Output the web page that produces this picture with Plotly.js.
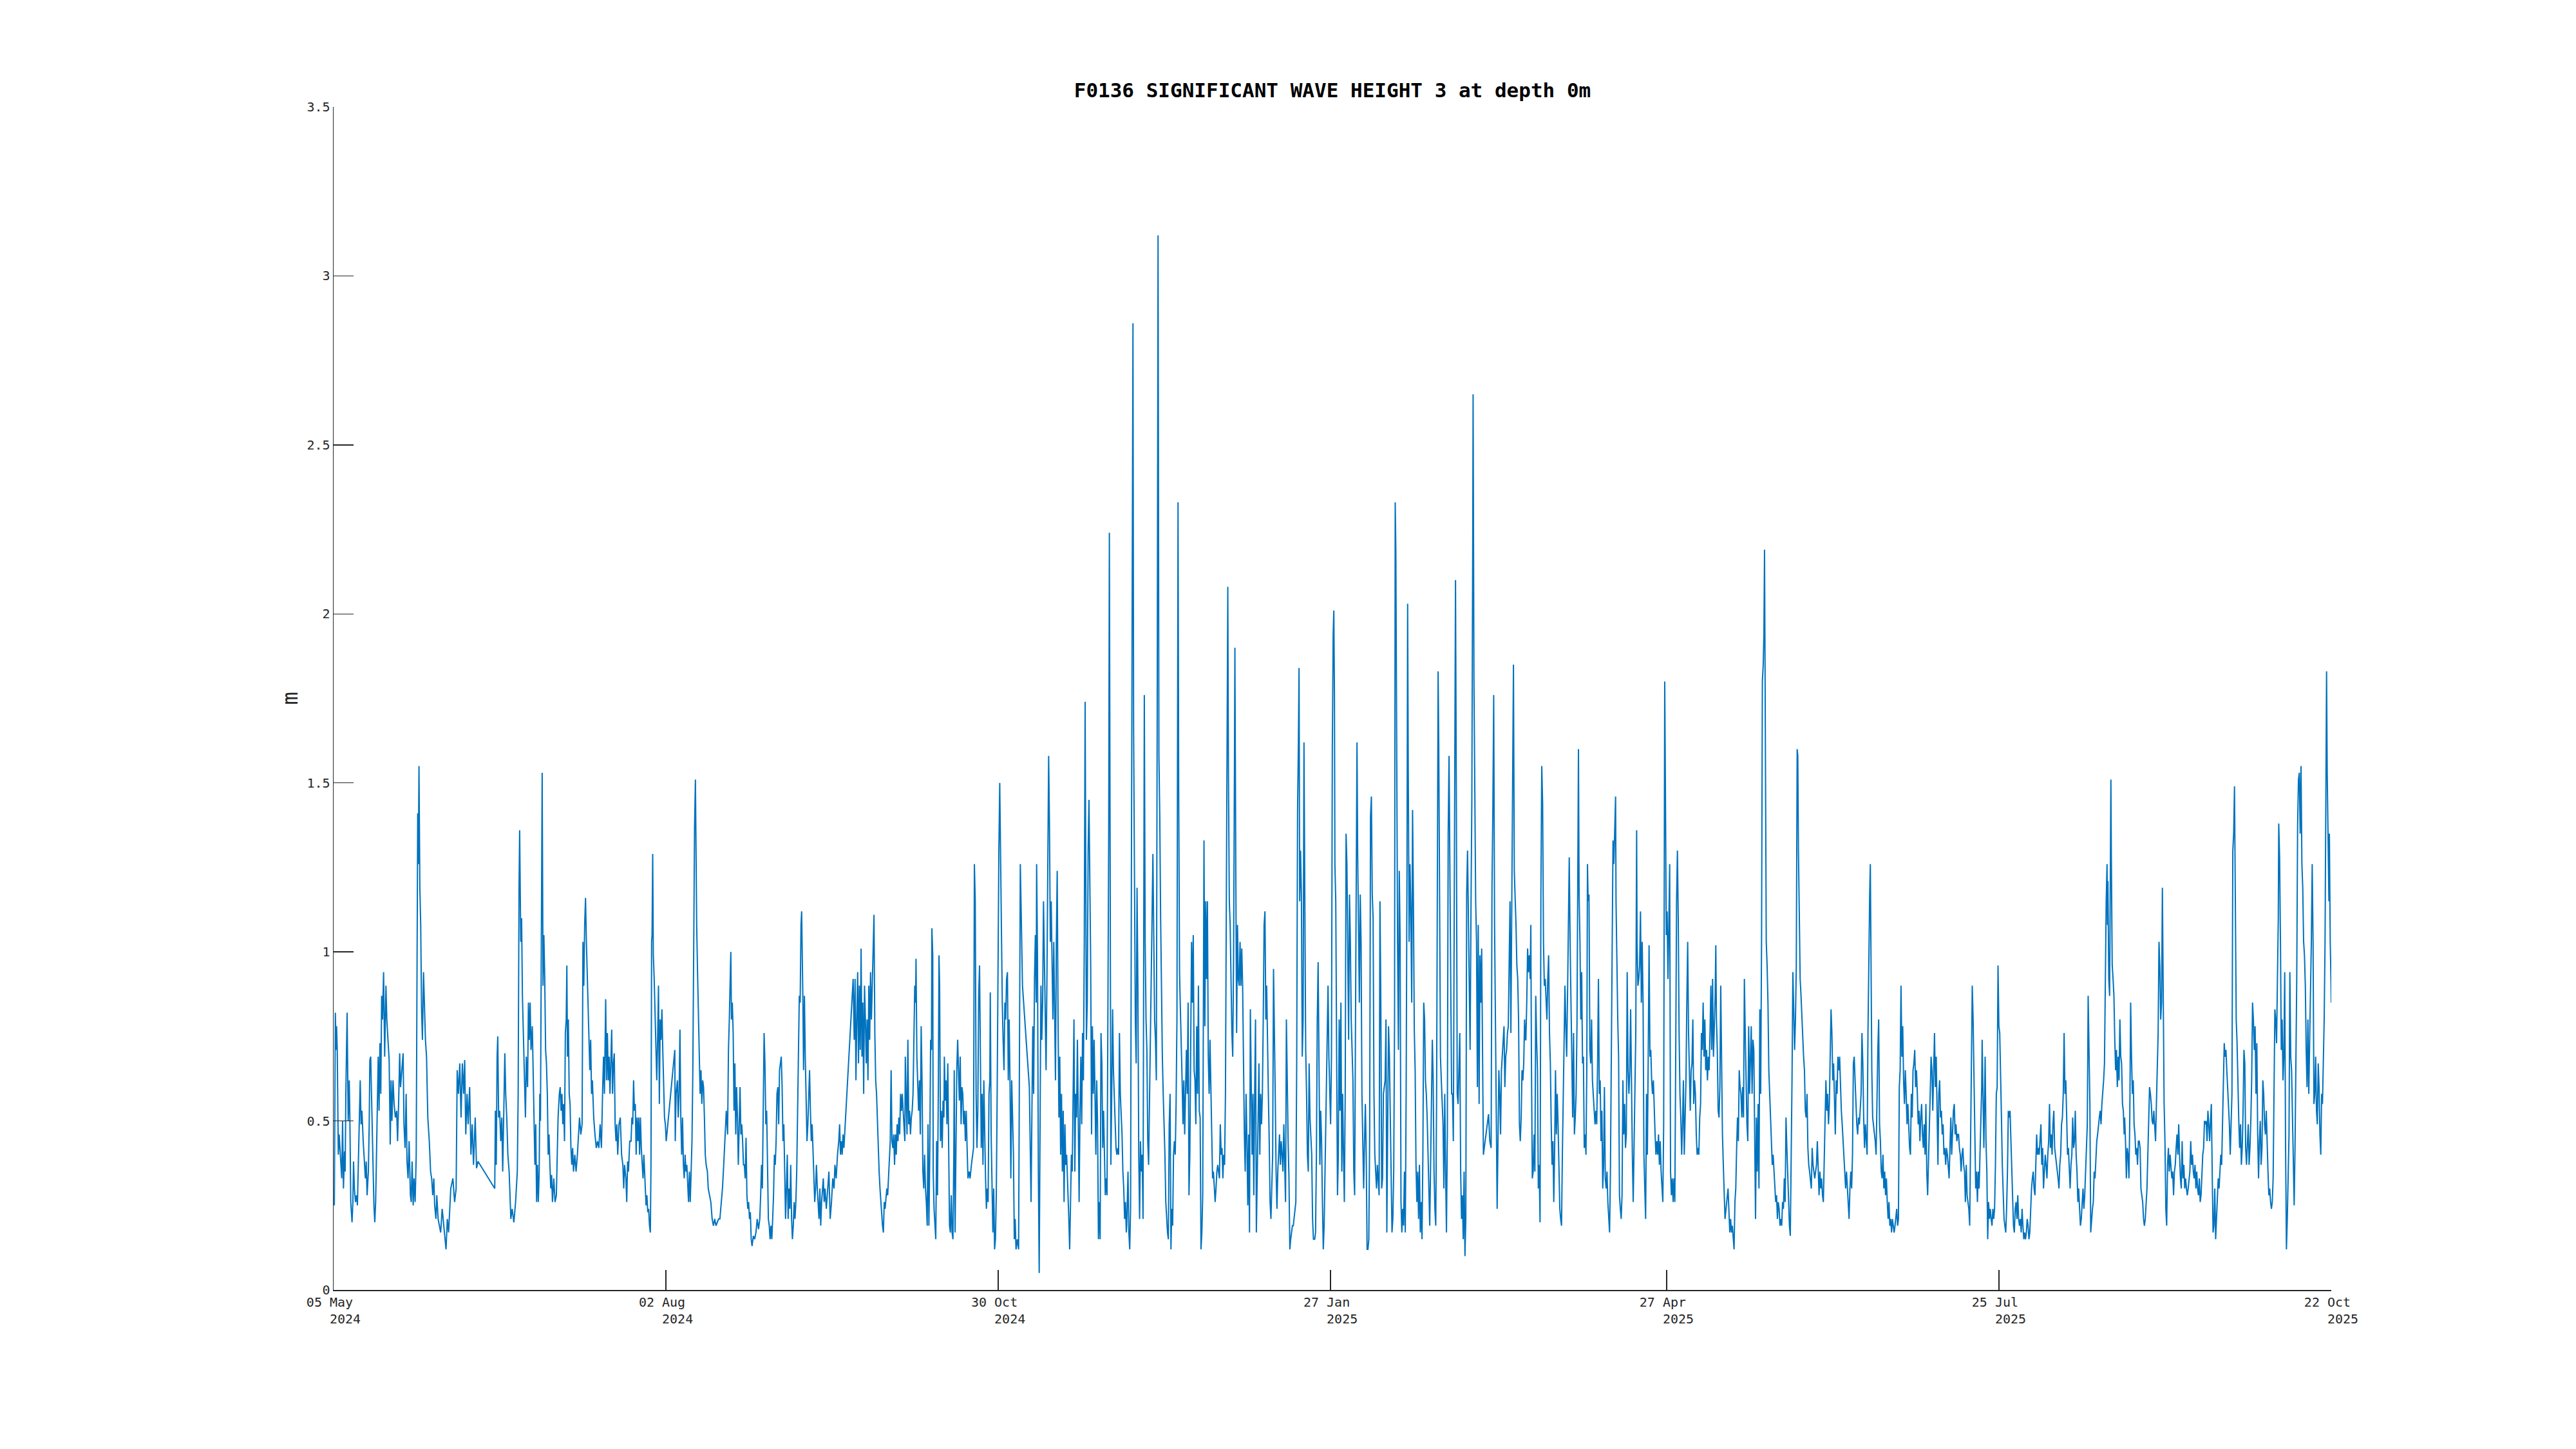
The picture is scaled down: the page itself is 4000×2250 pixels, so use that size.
<!DOCTYPE html>
<html>
<head>
<meta charset="utf-8">
<script src="https://cdn.plot.ly/plotly-3.0.1.min.js"></script>
<style>html,body{margin:0;padding:0;background:#fff;}#chart{width:4000px;height:2250px;}</style>
</head>
<body>
<div id="chart"></div>
<script>
// Time axis: days since 05 May 2024 00:00 UTC; values: significant wave height (m)
const startDate = '2024-05-05';
const endDate = '2025-10-22';

const part01Day = [
0.2,0.46,0.69,0.8,0.98,1.26,1.49,1.84,2.18,2.41,
2.64,2.93,3.1,3.28,3.45,3.62,3.91,4.19,4.37,4.6,
4.94,5.17,5.34,5.57,5.86,6.15,6.38,6.61,6.84,7.13,
7.36,7.59,7.93,8.28,8.51,8.74,8.97,9.31,9.54,9.71,
9.94,10.17,10.46,10.8,11.03,11.26,11.49,11.72,11.95,12.18,
12.41,12.64,12.87,13.1,13.39,13.68,14.02,14.25,14.54,14.88,
15.17,15.4,15.63,15.92,16.21,16.55,16.9,17.13,17.41,17.7,
17.93,18.28,18.62,18.85,19.14,19.43,19.66,19.94,20.23,20.57,
20.8,21.03,21.32,21.55,21.84,22.13,22.36,22.53,22.7,22.87,
23.1,23.33,23.56,23.79,24.08,24.31,24.6,24.89,25.23,25.63,
25.98,26.26,26.55,26.84,27.07,27.41,27.64,27.99,28.33,28.68,
29.08,29.48,30.11,30.46,30.8,31.38,31.95,32.41,32.82,33.1,
33.45,33.79,34.14,34.48,34.83,35.11,35.4,35.75,36.03,36.44,
36.78,37.13,37.47,37.93,38.28,38.68,43.16,43.33,43.56,43.79,
43.97,44.2,44.48,44.77,45.06,45.29,45.57,45.86,46.09,46.38,
46.67,47.01,47.47,47.82,48.28,48.74,49.2,49.43,49.66,49.83,
50.12,50.35,50.57,50.8,51.15,51.38,51.61,51.95];
const part01Hs = [
0.25,0.82,0.71,0.78,0.71,0.40,0.46,0.38,0.33,0.50,
0.30,0.41,0.35,0.58,0.67,0.82,0.50,0.62,0.50,0.26,
0.20,0.26,0.38,0.30,0.26,0.28,0.25,0.35,0.49,0.62,
0.49,0.53,0.44,0.37,0.33,0.38,0.28,0.35,0.49,0.68,
0.69,0.57,0.40,0.25,0.20,0.26,0.40,0.53,0.69,0.53,
0.73,0.58,0.87,0.80,0.94,0.69,0.90,0.80,0.75,0.68,
0.43,0.62,0.50,0.62,0.55,0.51,0.53,0.44,0.55,0.70,
0.60,0.65,0.70,0.49,0.42,0.58,0.38,0.33,0.44,0.28,
0.26,0.38,0.25,0.33,0.26,0.40,1.08,1.41,1.26,1.55,
1.19,1.08,0.83,0.74,0.94,0.85,0.74,0.69,0.51,0.44,
0.35,0.33,0.28,0.33,0.25,0.21,0.28,0.21,0.19,0.17,
0.24,0.19,0.12,0.21,0.17,0.30,0.33,0.26,0.30,0.65,
0.58,0.67,0.51,0.67,0.58,0.68,0.46,0.58,0.49,0.60,
0.40,0.49,0.37,0.51,0.36,0.38,0.30,0.53,0.37,0.69,
0.75,0.51,0.53,0.44,0.51,0.35,0.51,0.70,0.58,0.51,
0.40,0.35,0.21,0.24,0.20,0.26,0.35,0.58,1.19,1.36,
1.03,1.10,0.87,0.78,0.60,0.51,0.69,0.60];

const part02Day = [
52.18,52.41,52.64,52.87,53.22,53.45,53.68,53.91,54.14,54.37,
54.6,54.83,55.06,55.23,55.4,55.63,55.86,56.09,56.32,56.55,
56.78,57.01,57.24,57.47,57.7,57.93,58.16,58.39,58.62,58.97,
59.31,59.66,59.89,60.12,60.46,60.69,60.92,61.15,61.38,61.61,
61.84,62.07,62.3,62.47,62.64,62.87,63.1,63.33,63.56,63.79,
64.02,64.25,64.6,64.94,65.29,65.63,65.86,66.21,66.55,66.78,
67.01,67.24,67.47,67.7,67.93,68.16,68.39,68.62,68.85,69.08,
69.31,69.66,70.0,70.35,70.69,71.04,71.38,71.73,72.07,72.3,
72.53,72.87,73.1,73.33,73.56,73.79,74.02,74.25,74.48,74.71,
74.94,75.17,75.4,75.63,75.86,76.09,76.44,76.78,77.13,77.47,
77.7,77.93,78.28,78.51,78.74,78.97,79.31,79.66,79.89,80.12,
80.34,80.57,80.8,81.03,81.26,81.49,81.72,81.95,82.18,82.41,
82.64,82.87,83.1,83.45,83.68,83.91,84.14,84.37,84.6,84.83,
85.0,85.17,85.29,85.46,85.63,85.86,86.09,86.32,86.55,86.78,
87.01,87.24,87.47,87.7,87.93,88.16,88.39,88.62,88.85,89.08,
91.38,91.5,91.72,92.07,92.3,92.53,92.76,92.99,93.22,93.45,
93.68,93.91,94.14,94.37,94.6,94.83,95.06,95.29,95.52,95.75,
95.98,96.21,96.44,96.67,96.9,97.07,97.24,97.47,97.7,97.93,
98.16,98.39,98.62,98.85,99.08,99.31,99.54,99.77,100.11,100.34,
100.69,101.03,101.38,101.72,102.07,102.41,102.76,103.1,103.45,103.79,
104.14,104.48,104.83,105.17];
const part02Hs = [
0.85,0.74,0.85,0.71,0.78,0.65,0.53,0.37,0.49,0.26,
0.37,0.26,0.35,0.58,0.50,1.03,1.53,0.90,1.05,0.92,
0.71,0.67,0.58,0.40,0.46,0.37,0.30,0.34,0.26,0.33,
0.26,0.28,0.42,0.51,0.58,0.60,0.53,0.58,0.49,0.55,
0.44,0.76,0.80,0.96,0.69,0.80,0.58,0.55,0.42,0.37,
0.42,0.35,0.40,0.35,0.40,0.46,0.51,0.46,0.49,1.03,
0.90,1.08,1.16,1.03,0.92,0.85,0.71,0.65,0.74,0.58,
0.62,0.51,0.46,0.42,0.44,0.42,0.49,0.42,0.60,0.69,
0.58,0.86,0.62,0.76,0.62,0.69,0.58,0.71,0.77,0.58,
0.67,0.70,0.49,0.44,0.49,0.40,0.49,0.51,0.40,0.37,
0.30,0.37,0.33,0.26,0.38,0.35,0.44,0.44,0.51,0.49,
0.62,0.53,0.55,0.40,0.51,0.44,0.51,0.40,0.51,0.42,
0.37,0.33,0.40,0.30,0.25,0.28,0.23,0.24,0.19,0.17,
0.37,1.03,1.05,1.29,0.99,0.92,0.80,0.71,0.62,0.74,
0.90,0.55,0.80,0.74,0.83,0.71,0.62,0.51,0.49,0.44,
0.71,0.44,0.58,0.62,0.51,0.58,0.77,0.51,0.40,0.51,
0.37,0.33,0.40,0.35,0.37,0.30,0.26,0.35,0.26,0.35,
0.44,0.65,1.03,1.37,1.51,1.26,1.08,0.94,0.80,0.69,
0.58,0.65,0.55,0.62,0.60,0.51,0.40,0.37,0.35,0.30,
0.28,0.26,0.21,0.19,0.21,0.19,0.20,0.21,0.21,0.26,
0.30,0.37,0.44,0.53];

const part03Day = [
105.52,105.75,105.98,106.21,106.38,106.55,106.78,107.01,107.24,107.47,
107.7,107.93,108.16,108.39,108.62,108.85,109.08,109.31,109.54,109.77,
110.0,110.23,110.46,110.69,110.92,111.15,111.38,111.61,111.84,112.07,
112.42,112.76,113.11,113.45,113.8,114.14,114.37,114.6,114.83,115.06,
115.29,115.52,115.75,115.98,116.21,116.44,116.67,116.9,117.13,117.36,
117.59,117.82,118.05,118.28,118.51,118.74,118.97,119.2,119.43,119.66,
119.89,120.12,120.35,120.58,120.81,121.04,121.27,121.5,121.73,121.96,
122.19,122.42,122.65,122.88,123.11,123.34,123.57,123.8,124.03,124.26,
124.49,124.72,124.95,125.18,125.35,125.52,125.69,125.86,126.09,126.32,
126.55,126.78,127.01,127.24,127.47,127.7,127.93,128.16,128.39,128.62,
128.85,129.08,129.31,129.54,129.77,130.0,130.23,130.46,130.69,130.92,
131.15,131.38,131.61,131.96,132.3,132.65,132.99,133.34,133.68,134.03,
134.26,134.6,134.95,135.29,135.52,135.75,135.98,136.21,136.44,136.67,
139.14,139.43,139.66,139.89,140.12,140.35,140.58,140.81,141.04,141.27,
141.5,141.73,141.96,142.19,142.42,142.65,142.88,143.11,143.34,143.57,
143.8,144.03,144.26,144.49,144.72,144.95,145.18,145.41,145.64,145.87,
146.1,146.33,146.56,146.79,147.01,147.24,147.47,147.7,147.93,148.16,
148.39,148.62,148.85,149.08,149.31,149.54,149.77,150.0,150.23,150.46,
150.69,150.92,151.15,151.38,151.61,151.84,152.07,152.3,152.53,152.76,
152.99,153.11,153.34,153.57,153.8,154.03,154.26,154.49,154.72,154.95,
155.18,155.41,155.64,155.87,155.98,156.21,156.44,156.67,156.9,157.13,
157.36,157.59,157.82,158.05,158.28,158.51,158.74];
const part03Hs = [
0.46,0.71,0.80,0.90,1.00,0.80,0.85,0.76,0.53,0.67,
0.46,0.60,0.51,0.37,0.51,0.60,0.46,0.49,0.44,0.37,
0.37,0.33,0.45,0.28,0.24,0.26,0.21,0.23,0.15,0.13,
0.16,0.15,0.17,0.21,0.18,0.21,0.28,0.37,0.30,0.58,
0.76,0.67,0.49,0.53,0.35,0.21,0.19,0.15,0.19,0.15,
0.21,0.28,0.40,0.37,0.44,0.58,0.60,0.49,0.65,0.67,
0.69,0.60,0.44,0.49,0.35,0.21,0.30,0.40,0.21,0.30,
0.24,0.37,0.21,0.15,0.19,0.26,0.21,0.26,0.35,0.51,
0.65,0.87,0.85,1.08,1.12,1.01,0.85,0.65,0.87,0.69,
0.58,0.44,0.49,0.58,0.65,0.53,0.44,0.49,0.40,0.33,
0.26,0.30,0.37,0.30,0.26,0.21,0.30,0.19,0.26,0.30,
0.33,0.26,0.30,0.24,0.30,0.35,0.21,0.26,0.33,0.30,
0.37,0.33,0.40,0.44,0.49,0.40,0.44,0.40,0.46,0.42,
0.92,0.74,0.92,0.62,0.80,0.94,0.67,0.90,0.71,1.01,
0.69,0.85,0.58,0.90,0.80,0.67,0.80,0.62,0.90,0.74,
0.94,0.80,0.90,1.01,1.11,0.76,0.62,0.58,0.49,0.40,
0.35,0.30,0.26,0.21,0.19,0.17,0.26,0.24,0.28,0.30,
0.28,0.33,0.37,0.44,0.65,0.44,0.42,0.46,0.37,0.46,
0.40,0.49,0.44,0.51,0.46,0.58,0.53,0.58,0.53,0.49,
0.44,0.69,0.53,0.46,0.74,0.49,0.53,0.46,0.51,0.53,
0.58,0.78,0.90,0.85,0.98,0.69,0.58,0.53,0.62,0.46,
0.78,0.62,0.35,0.30,0.40,0.30,0.26];

const part04Day = [
158.97,159.2,159.43,159.66,159.89,160.12,160.23,160.46,160.58,160.81,
161.04,161.27,161.5,161.73,161.96,162.13,162.3,162.53,162.76,162.99,
163.22,163.45,163.57,163.8,164.03,164.26,164.49,164.72,164.95,165.18,
165.41,165.64,165.87,166.1,166.21,166.44,166.67,166.9,167.13,167.36,
167.59,167.82,168.05,168.28,168.51,168.74,168.97,169.2,169.43,169.66,
169.89,170.23,170.46,170.81,171.15,171.38,171.61,171.84,172.07,172.3,
172.53,172.76,172.99,173.22,173.45,173.68,173.91,174.14,174.37,174.6,
174.83,175.06,175.29,175.52,175.75,175.87,176.1,176.33,176.56,176.79,
177.02,177.25,177.48,177.71,177.94,178.17,178.4,178.62,178.85,179.08,
179.31,179.54,179.77,180.0,180.23,180.46,180.69,180.92,181.15,181.38,
181.61,181.84,182.07,182.3,182.53,182.76,183.1,183.45,183.68,183.91,
184.14,184.49,186.33,186.56,186.79,187.02,187.25,187.48,187.71,187.94,
188.17,188.28,188.51,188.74,188.97,189.2,189.43,189.66,189.89,190.12,
190.35,190.58,190.81,191.04,191.27,191.5,191.72,191.95,192.18,192.41,
192.64,192.87,193.1,193.33,193.56,193.79,194.02,194.25,194.48,194.71,
194.94,195.17,195.4,195.63,195.86,196.09,196.32,196.67,196.9,197.13,
197.36,197.59,197.82,198.05,198.28,198.51,198.74,198.97,199.2,199.43,
199.66,199.89,200.12,200.35,200.58,200.81,201.04,201.27,201.38,201.61,
201.84,202.07,202.3,202.53,202.76,202.99,203.22,203.45,203.68,203.91,
204.14,204.37,204.6,204.83,205.06,205.29,205.52,205.75,205.98,206.21,
206.44,206.67,206.9,207.13,207.36,207.59,207.76,207.93,208.16,208.39,
208.62,208.85,209.08,209.31,209.54,209.77,210.0,210.23,210.46,210.69,
210.92,211.15,211.38,211.61,211.84,212.07,212.3];
const part04Hs = [
0.19,0.49,0.19,0.40,0.74,0.71,1.07,0.99,0.35,0.24,
0.19,0.15,0.44,0.28,0.60,0.99,0.90,0.44,0.53,0.42,
0.56,0.51,0.69,0.56,0.62,0.49,0.67,0.40,0.19,0.17,
0.28,0.17,0.15,0.40,0.65,0.17,0.49,0.65,0.74,0.62,
0.56,0.69,0.49,0.60,0.58,0.49,0.53,0.44,0.53,0.42,
0.33,0.35,0.33,0.37,0.40,0.42,1.26,1.15,0.58,0.42,
0.53,0.87,0.96,0.67,0.42,0.58,0.37,0.62,0.44,0.33,
0.24,0.30,0.26,0.58,0.62,0.88,0.46,0.30,0.17,0.30,
0.12,0.15,0.28,0.58,1.03,1.30,1.50,1.26,0.99,0.85,
0.74,0.65,0.85,0.80,0.92,0.94,0.62,0.80,0.62,0.33,
0.62,0.51,0.40,0.15,0.21,0.12,0.15,0.12,0.80,1.26,
1.12,0.90,0.60,0.40,0.26,0.53,0.78,0.58,0.92,1.05,
0.85,1.26,0.99,0.35,0.05,0.49,0.90,0.74,0.85,1.15,
0.99,0.78,0.65,0.92,1.26,1.58,1.37,1.03,1.15,0.94,
0.80,1.03,0.80,0.62,1.03,1.24,0.80,0.51,0.69,0.40,
0.58,0.35,0.53,0.26,0.49,0.37,0.40,0.30,0.21,0.12,
0.26,0.40,0.35,0.55,0.80,0.35,0.58,0.51,0.74,0.51,
0.26,0.53,0.69,0.49,0.76,0.62,1.03,1.74,1.26,0.74,
0.85,1.30,1.45,1.17,0.96,0.46,0.78,0.58,0.74,0.58,
0.40,0.62,0.49,0.15,0.26,0.15,0.76,0.67,0.42,0.53,
0.40,0.28,0.33,0.28,0.80,1.37,2.24,1.35,0.37,0.58,
0.83,0.65,0.58,0.49,0.42,0.40,0.42,0.40,0.76,0.58,
0.51,0.46,0.35,0.30,0.21,0.26,0.17];

const part05Day = [
212.41,212.75,212.98,213.21,213.44,213.67,213.9,214.08,214.25,214.48,
214.71,214.94,215.17,215.4,215.63,215.86,216.09,216.32,216.55,216.78,
217.01,217.12,217.35,217.58,217.81,218.04,218.27,218.5,218.73,218.96,
219.19,219.42,219.65,219.88,220.11,220.34,220.57,220.8,221.03,221.26,
221.49,221.72,221.95,222.18,222.41,222.64,222.87,223.1,223.33,223.56,
223.79,224.02,224.25,224.48,224.71,224.94,225.17,225.4,225.63,225.86,
226.03,226.15,226.32,226.55,226.78,227.01,227.24,227.47,227.7,227.93,
228.16,228.39,228.62,228.85,229.08,229.31,229.54,229.77,230.0,230.23,
230.46,230.69,230.92,231.15,231.38,231.61,231.84,232.07,232.3,232.53,
232.76,232.99,233.1,233.33,233.56,233.79,234.02,234.25,234.48,234.71,
234.94,235.17,235.4,235.63,235.86,236.09,236.32,236.55,236.78,237.01,
237.24,237.47,237.7,237.93,238.16,238.39,238.62,238.85,239.08,239.31,
239.48,239.65,239.88,240.11,240.34,240.57,240.8,241.03,241.26,241.38,
241.61,241.84,242.07,242.3,242.53,242.76,242.99,243.22,243.45,243.68,
243.91,244.14,244.37,244.6,244.83,245.06,245.29,245.52,245.75,245.98,
246.21,246.44,246.67,246.9,247.13,247.36,247.59,247.82,248.05,248.28,
248.51,248.74,248.97,249.2,249.43,249.66,249.89,250.11,250.34,250.57,
250.8,251.03,251.26,251.49,251.72,251.95,252.18,252.41,252.64,252.87,
253.1,253.33,253.56,253.79,254.02,254.25,254.48,254.71,254.94,255.17,
255.4,255.63,255.86,256.09,256.32,256.55,256.78,257.01,257.24,257.47,
257.7,257.93,258.16,258.39,258.56,258.73,258.96,259.19,259.42,259.65,
259.88,260.11,260.34,260.57,260.8,261.03,261.26,261.49,261.72,261.95,
262.18,262.41,262.75,262.98,263.21,263.44,263.67,263.9,264.13,264.36,
264.59,264.82,265.05,265.28,265.51,265.74];
const part05Hs = [
0.19,0.35,0.17,0.12,0.24,1.26,2.17,2.86,1.67,1.26,
0.80,0.67,1.19,0.90,0.40,0.21,0.44,0.35,0.40,0.21,
1.26,1.76,1.03,0.80,0.71,0.44,0.37,0.58,0.71,0.90,
1.10,1.29,1.08,0.80,0.74,0.62,1.71,3.12,1.58,1.40,
1.10,0.85,0.69,0.58,0.51,0.40,0.26,0.21,0.17,0.15,
0.49,0.58,0.12,0.24,0.19,0.40,0.44,0.40,0.55,0.80,
1.49,2.33,1.49,0.94,0.83,0.69,0.62,0.49,0.62,0.46,
0.58,0.71,0.58,0.85,0.28,0.40,0.71,1.03,0.85,1.05,
0.65,0.62,0.49,0.78,0.58,0.90,0.53,0.51,0.12,0.17,
0.28,1.03,1.33,0.78,1.15,0.92,1.15,0.69,0.58,0.74,
0.60,0.51,0.33,0.35,0.30,0.26,0.30,0.35,0.37,0.35,
0.33,0.49,0.40,0.42,0.33,0.40,0.37,0.58,1.26,1.71,
2.08,1.53,1.15,1.08,0.92,0.76,0.69,0.99,1.55,1.90,
1.26,0.76,1.08,0.92,0.90,1.03,0.90,1.01,0.90,0.67,
0.46,0.35,0.58,0.44,0.25,0.46,0.17,0.83,0.58,0.40,
0.58,0.28,0.58,0.80,0.17,0.35,0.58,0.67,0.40,0.58,
0.49,0.58,0.80,1.08,1.12,0.80,0.90,0.71,0.58,0.44,
0.26,0.21,0.30,0.40,0.95,0.80,0.58,0.35,0.24,0.35,
0.40,0.46,0.37,0.44,0.40,0.35,0.49,0.40,0.26,0.80,
0.58,0.44,0.33,0.12,0.15,0.17,0.19,0.19,0.21,0.24,
0.26,0.67,1.42,1.62,1.84,1.15,1.30,1.17,0.69,0.80,
1.62,1.15,0.71,0.58,0.40,0.35,0.67,0.51,0.44,0.40,
0.21,0.15,0.15,0.17,0.40,0.80,0.97,0.58,0.37,0.53,
0.44,0.26,0.12,0.19,0.35,0.58];

const part06Day = [
265.86,266.09,266.32,266.55,266.78,267.01,267.24,267.47,267.7,267.87,
268.04,268.16,268.39,268.62,268.85,269.08,269.31,269.54,269.77,270.0,
270.23,270.46,270.69,270.92,271.15,271.38,271.61,271.84,272.07,272.3,
272.53,272.76,272.99,273.22,273.45,273.68,273.91,274.08,274.25,274.48,
274.71,274.94,275.17,275.4,275.63,275.86,276.09,276.32,276.55,276.78,
277.01,277.24,277.47,277.7,277.93,278.16,278.39,278.62,278.85,279.08,
279.31,279.54,279.77,280.0,280.23,280.46,280.69,280.92,281.15,281.38,
281.61,281.84,282.07,282.3,282.53,282.76,282.99,283.22,283.45,283.68,
283.91,284.14,284.31,284.48,284.71,284.94,285.17,285.4,285.63,285.86,
286.09,286.32,286.55,286.78,287.01,287.24,287.47,287.64,287.81,288.04,
288.27,288.5,288.73,288.96,289.19,289.42,289.65,289.88,290.11,290.34,
290.57,290.8,291.03,291.26,291.49,291.72,291.95,292.18,292.41,292.64,
292.87,293.1,293.33,293.56,293.79,294.02,294.25,294.48,294.71,294.94,
295.17,295.4,295.63,295.8,295.97,296.2,296.43,296.66,296.89,297.12,
297.35,297.58,297.81,298.04,298.27,298.5,298.73,298.96,299.19,299.42,
299.65,299.88,300.11,300.28,300.46,300.69,300.92,301.15,301.38,301.61,
301.84,302.07,302.3,302.53,302.76,302.99,303.22,303.45,303.68,303.91,
304.14,304.37,304.6,304.83,305.06,305.17,305.4,305.63,305.86,306.09,
306.32,306.55,306.78,307.01,307.24,307.47,307.7,307.93,309.31,309.65,
310.0,310.23,310.46,310.69,310.92,311.15,311.38,311.61,311.84,312.07,
312.3,312.53,312.76,312.99,313.22,313.45,313.68,313.91,314.14,314.37,
314.6,314.83,315.06,315.29,315.52,315.75,315.98,316.2,316.43,316.66,
316.89,317.12,317.35,317.58,317.81,318.04,318.27,318.5,318.73,318.96,
319.19];
const part06Hs = [
0.60,0.80,0.90,0.69,0.58,0.49,0.69,1.60,1.94,2.01,
1.76,1.26,1.15,0.80,0.28,0.40,0.80,0.53,0.85,0.35,
0.58,0.40,0.26,0.58,1.35,1.26,0.92,0.74,1.17,1.03,
0.80,0.71,0.62,0.35,0.28,0.80,1.26,1.62,1.30,1.12,
0.85,1.17,1.03,0.58,0.40,0.30,0.44,0.55,0.40,0.12,
0.12,0.15,0.46,1.40,1.46,1.17,1.10,0.58,0.40,0.35,
0.30,0.37,0.33,0.28,1.15,0.85,0.30,0.33,0.58,0.60,
0.62,0.80,0.17,0.49,0.78,0.69,0.51,0.40,0.17,0.21,
0.35,0.80,2.33,2.19,1.49,1.03,0.71,1.24,1.03,0.26,
0.17,0.24,0.19,0.35,0.17,0.58,1.26,2.03,1.53,1.03,
1.26,1.12,0.85,1.42,1.15,0.77,0.65,0.37,0.26,0.35,
0.21,0.37,0.17,0.26,0.15,0.40,0.85,0.80,0.62,0.58,
0.51,0.40,0.26,0.19,0.37,0.58,0.74,0.62,0.35,0.24,
0.19,0.58,1.26,1.83,1.62,1.03,0.69,0.62,0.55,0.49,
0.30,0.58,0.35,0.17,0.46,1.35,1.58,1.17,0.90,0.58,
0.58,0.44,1.26,1.49,2.10,1.44,0.58,0.55,0.67,0.76,
0.35,0.21,0.28,0.15,0.35,0.10,0.21,1.17,1.30,1.12,
0.99,0.71,1.12,1.44,2.17,2.65,1.80,1.42,1.15,1.03,
0.60,1.08,0.55,0.99,0.85,1.01,0.71,0.40,0.52,0.44,
0.42,1.19,1.42,1.76,1.08,0.80,0.51,0.24,0.44,0.65,
0.58,0.46,0.65,0.69,0.74,0.78,0.60,0.69,0.71,0.76,
0.78,0.94,1.15,0.76,1.10,1.35,1.85,1.24,1.17,1.08,
0.96,0.92,0.80,0.49,0.44,0.51,0.65,0.62,0.67,0.80,
0.74];

const part07Day = [
319.31,319.54,319.77,320.0,320.23,320.46,320.63,320.8,321.03,321.26,
321.49,321.72,321.95,322.18,322.41,322.64,322.87,323.1,323.33,323.56,
323.79,324.02,324.25,324.48,324.71,324.94,325.17,325.4,325.63,325.86,
326.09,326.32,326.55,326.78,327.01,327.24,327.47,327.7,327.93,328.16,
328.39,328.62,328.85,329.08,329.31,329.54,329.77,330.0,330.23,330.46,
330.69,330.92,331.15,331.38,331.61,331.84,332.07,332.3,332.53,332.76,
332.99,333.22,333.39,333.56,333.79,334.02,334.25,334.48,334.71,334.94,
335.17,335.4,335.63,335.8,335.98,336.21,336.44,336.67,336.9,337.13,
337.36,337.59,337.82,338.05,338.28,338.51,338.74,338.97,339.2,339.43,
339.66,339.89,340.12,340.34,340.57,340.8,341.03,341.26,341.49,341.72,
341.95,342.18,342.41,342.64,342.87,343.1,343.33,343.45,343.68,343.91,
344.14,344.37,344.6,344.83,345.06,345.29,345.52,345.75,345.98,346.21,
346.44,346.67,346.9,347.13,347.36,347.59,347.82,348.05,348.28,348.51,
348.74,348.97,349.08,349.31,349.54,349.77,350.0,350.23,350.46,350.69,
350.92,351.15,351.38,351.61,351.84,352.07,352.3,352.53,352.76,352.99,
353.22,353.45,353.68,353.91,354.14,354.37,354.6,354.83,355.06,355.29,
355.52,355.75,355.98,356.21,356.38,356.49,356.67,356.9,357.13,357.36,
357.59,357.82,358.05,358.28,358.51,358.74,358.97,359.2,359.43,359.66,
359.89,360.11,360.34,360.57,360.8,361.03,361.26,361.49,361.72,361.95,
362.18,362.41,362.64,362.87,363.1,363.33,363.56,363.79,364.02,364.25,
364.48,364.71,364.94,365.17,365.4,365.63,365.86,366.09,366.32,366.55,
366.78,367.01,367.24,367.47,367.7,367.93,368.16,368.39,368.62,368.85,
369.08,369.31,369.54,369.77,370.0,370.17,370.34,370.57,370.8,371.03,
371.26,371.49,371.72,371.95,372.18,372.41,372.64];
const part07Hs = [
0.74,0.85,1.01,0.94,0.99,0.92,1.08,0.67,0.33,0.35,
0.46,0.35,0.87,0.74,0.65,0.30,0.37,0.20,1.17,1.55,
1.44,1.03,0.90,0.92,0.85,0.80,0.92,0.99,0.76,0.67,
0.49,0.37,0.44,0.26,0.42,0.65,0.46,0.58,0.49,0.37,
0.24,0.21,0.19,0.40,0.58,0.69,0.90,0.78,0.69,0.87,
1.03,1.28,1.03,0.85,0.65,0.51,0.76,0.46,0.51,0.58,
0.78,1.21,1.60,1.17,1.03,0.80,0.94,0.67,0.69,0.42,
0.46,0.40,0.67,1.26,1.15,1.17,0.71,0.67,0.80,0.62,
0.58,0.53,0.49,0.53,0.49,0.67,0.92,0.58,0.62,0.44,
0.53,0.30,0.37,0.60,0.33,0.30,0.35,0.26,0.21,0.17,
0.35,0.71,0.94,1.33,1.26,1.37,1.46,1.15,0.92,0.80,
0.69,0.28,0.24,0.21,0.28,0.62,0.46,0.55,0.42,0.46,
0.94,0.65,0.58,0.65,0.83,0.58,0.40,0.26,0.44,0.55,
0.76,1.36,1.03,0.90,0.92,0.96,1.12,0.85,1.03,0.85,
0.40,0.30,0.21,0.58,0.40,0.69,1.02,0.69,0.71,0.62,
0.58,0.62,0.51,0.46,0.40,0.44,0.40,0.46,0.37,0.44,
0.35,0.30,0.26,0.49,1.35,1.80,1.49,1.05,1.12,0.92,
1.08,1.26,0.35,0.28,0.33,0.26,0.33,0.26,0.69,1.15,
1.30,1.10,0.76,0.58,0.51,0.40,0.49,0.62,0.40,0.53,
0.62,0.85,1.03,0.76,0.65,0.53,0.65,0.67,0.80,0.55,
0.62,0.58,0.46,0.40,0.42,0.40,0.51,0.55,0.76,0.71,
0.85,0.69,0.80,0.65,0.71,0.62,0.69,0.65,0.76,0.90,
0.71,0.92,0.69,0.76,0.87,1.02,0.80,0.71,0.53,0.51,
0.60,0.90,0.67,0.46,0.37,0.26,0.21];

const part08Day = [
373.45,373.68,373.91,374.14,374.37,374.6,374.83,375.06,375.29,375.52,
375.75,375.98,376.21,376.44,376.67,376.9,377.13,377.36,377.59,377.82,
378.05,378.28,378.51,378.74,378.97,379.2,379.43,379.66,379.89,380.12,
380.35,380.58,380.81,381.04,381.27,381.5,381.73,381.96,382.19,382.42,
382.64,382.87,383.05,383.22,383.45,383.68,383.91,384.14,384.37,384.6,
384.83,385.06,385.29,385.52,385.75,385.98,386.21,386.44,386.67,386.9,
387.13,387.36,387.59,387.82,388.05,388.28,388.51,388.74,388.97,389.2,
389.43,389.66,389.89,390.12,390.35,390.58,390.81,391.04,391.27,391.5,
391.73,391.96,392.13,392.3,392.53,392.76,392.99,393.22,393.45,393.68,
393.91,394.14,394.37,394.6,394.83,395.06,395.29,395.52,395.75,395.98,
396.21,396.44,396.67,396.9,397.13,397.36,397.59,397.82,398.05,398.28,
398.51,398.74,398.97,399.2,399.43,399.66,399.89,400.12,400.35,400.58,
400.8,401.03,401.26,401.49,401.72,401.95,402.18,402.41,402.64,402.87,
403.1,403.33,403.56,403.79,404.02,404.25,404.48,404.71,404.94,405.17,
405.4,405.63,405.86,406.09,406.32,406.55,406.78,407.01,407.24,407.47,
407.7,407.93,408.16,408.39,408.62,408.85,409.08,409.31,409.54,409.77,
410.0,410.23,410.46,410.69,410.92,411.15,411.38,411.55,411.72,411.95,
412.18,412.41,412.64,412.87,413.1,413.33,413.56,413.79,414.02,414.25,
414.48,414.71,414.94,415.17,415.4,415.63,415.86,416.09,416.32,416.55,
416.78,417.01,417.24,417.47,417.7,417.93,418.16,418.39,418.62,418.85,
419.08,419.31,419.54,419.77,420.0,420.23,420.46,420.69,420.92,421.15,
421.38,421.61,421.84,422.07,422.3,422.53,422.76,422.99,423.22,423.45,
423.68,423.91,424.14,424.37,424.6,424.83,425.06,425.29,425.52,425.75,
425.98,426.21];
const part08Hs = [
0.30,0.21,0.17,0.21,0.17,0.19,0.15,0.12,0.26,0.30,
0.42,0.51,0.44,0.65,0.60,0.58,0.51,0.60,0.51,0.92,
0.76,0.58,0.49,0.44,0.78,0.58,0.69,0.78,0.58,0.74,
0.71,0.40,0.21,0.51,0.35,0.55,0.30,0.83,0.58,1.03,
1.80,1.85,1.94,2.19,1.49,1.03,0.96,0.85,0.65,0.58,
0.49,0.44,0.37,0.40,0.35,0.30,0.26,0.28,0.21,0.26,
0.24,0.19,0.21,0.19,0.26,0.24,0.33,0.26,0.51,0.42,
0.35,0.28,0.19,0.16,0.35,0.62,0.94,0.85,0.71,0.80,
0.96,1.60,1.58,1.30,1.15,0.92,0.87,0.80,0.76,0.69,
0.65,0.53,0.51,0.58,0.42,0.37,0.35,0.33,0.30,0.42,
0.37,0.35,0.33,0.35,0.37,0.44,0.33,0.28,0.35,0.30,
0.33,0.28,0.26,0.40,0.50,0.62,0.53,0.58,0.49,0.55,
0.69,0.83,0.76,0.62,0.67,0.58,0.46,0.62,0.58,0.69,
0.65,0.69,0.60,0.53,0.49,0.44,0.40,0.35,0.30,0.35,
0.30,0.26,0.21,0.30,0.35,0.30,0.40,0.67,0.69,0.62,
0.53,0.49,0.46,0.51,0.49,0.53,0.58,0.76,0.67,0.51,
0.42,0.49,0.44,0.40,0.76,1.03,1.17,1.26,0.96,0.65,
0.51,0.49,0.46,0.44,0.40,0.60,0.71,0.80,0.49,0.44,
0.35,0.33,0.40,0.30,0.35,0.28,0.33,0.26,0.21,0.26,
0.19,0.21,0.17,0.21,0.19,0.17,0.19,0.21,0.24,0.19,
0.21,0.60,0.65,0.90,0.69,0.78,0.62,0.55,0.65,0.58,
0.49,0.55,0.46,0.42,0.40,0.58,0.51,0.65,0.67,0.71,
0.60,0.65,0.58,0.49,0.53,0.44,0.51,0.55,0.46,0.42,
0.49,0.40];

const part09Day = [
426.44,426.67,426.9,427.13,427.36,427.59,427.82,428.05,428.28,428.51,
428.74,428.97,429.2,429.43,429.66,429.89,430.12,430.35,430.58,430.81,
431.04,431.27,431.5,431.73,431.96,432.19,432.42,432.65,432.88,433.11,
433.34,433.57,433.8,434.03,434.26,434.49,434.72,434.95,435.18,435.41,
435.64,435.87,436.1,436.33,436.55,436.78,437.01,437.24,437.47,437.7,
437.93,438.16,438.39,438.62,438.85,439.08,439.31,439.54,439.77,440.0,
440.23,440.46,440.69,440.92,441.15,441.38,441.5,441.73,441.96,442.19,
442.3,442.53,442.76,442.99,443.22,443.45,443.68,443.91,444.14,444.37,
444.6,444.83,445.06,445.29,445.52,445.75,445.98,446.21,446.44,446.67,
446.9,447.13,447.36,447.59,447.82,448.05,448.28,448.51,448.74,448.97,
449.2,449.43,449.66,449.89,450.12,450.35,450.58,450.81,451.04,451.27,
451.5,451.73,451.96,452.19,452.42,452.65,452.88,453.11,453.34,453.57,
453.8,454.03,454.26,454.49,454.72,454.95,455.18,455.41,455.64,455.87,
456.1,456.33,456.55,456.78,457.01,457.24,457.47,457.7,457.93,458.16,
458.39,458.62,458.85,459.08,459.31,459.54,459.77,460.0,460.23,460.46,
460.69,460.92,461.15,461.38,461.61,461.84,462.07,462.3,462.53,462.76,
462.99,463.22,463.45,463.68,463.91,464.14,464.37,464.6,464.83,465.06,
465.29,465.52,465.75,465.98,466.21,466.44,466.67,466.9,467.13,467.36,
467.59,467.82,468.05,468.28,468.51,468.74,468.97,469.2,469.43,469.66,
469.89,470.12,470.35,470.58,470.81,471.04,471.27,471.5,471.73,471.96,
472.19,472.42,472.65,472.88,473.11,473.34,473.57,473.8,474.03,474.26,
474.49,474.72,474.95,475.06,475.18,475.41,475.64,475.87,475.98,476.1,
476.33,476.56,476.79,477.02,477.24,477.47,477.7,477.93,478.16,478.39,
478.62,478.85,479.08,479.31,479.54];
const part09Hs = [
0.55,0.35,0.28,0.40,0.51,0.58,0.69,0.65,0.53,0.65,
0.76,0.60,0.69,0.53,0.37,0.58,0.62,0.51,0.53,0.46,
0.49,0.40,0.42,0.37,0.42,0.40,0.37,0.33,0.42,0.51,
0.40,0.46,0.53,0.55,0.46,0.49,0.44,0.46,0.46,0.42,
0.40,0.35,0.40,0.42,0.37,0.35,0.26,0.37,0.28,0.26,
0.24,0.19,0.40,0.60,0.90,0.80,0.60,0.42,0.30,0.35,
0.26,0.35,0.30,0.40,0.53,0.60,0.74,0.53,0.42,0.60,
0.69,0.44,0.35,0.15,0.26,0.21,0.24,0.21,0.19,0.24,
0.21,0.24,0.37,0.58,0.60,0.96,0.78,0.76,0.65,0.51,
0.37,0.30,0.21,0.19,0.17,0.24,0.35,0.53,0.51,0.53,
0.44,0.35,0.26,0.19,0.17,0.24,0.26,0.21,0.28,0.21,
0.19,0.21,0.17,0.24,0.19,0.15,0.17,0.15,0.17,0.21,
0.19,0.15,0.17,0.26,0.30,0.33,0.35,0.30,0.28,0.37,
0.46,0.40,0.42,0.40,0.46,0.49,0.37,0.42,0.30,0.35,
0.40,0.37,0.33,0.40,0.44,0.55,0.42,0.46,0.40,0.49,
0.53,0.42,0.40,0.37,0.35,0.33,0.30,0.37,0.40,0.49,
0.51,0.58,0.76,0.58,0.62,0.51,0.40,0.42,0.35,0.30,
0.37,0.40,0.51,0.42,0.44,0.53,0.40,0.35,0.26,0.30,
0.24,0.19,0.21,0.26,0.30,0.24,0.28,0.35,0.44,0.49,
0.87,0.69,0.55,0.17,0.21,0.24,0.26,0.35,0.33,0.40,
0.44,0.46,0.49,0.51,0.53,0.49,0.55,0.58,0.62,0.67,
0.99,1.15,1.26,1.08,1.21,0.92,0.87,1.49,1.51,1.28,
0.96,0.92,0.87,0.74,0.65,0.71,0.60,0.69,0.62,0.80,
0.69,0.67,0.55,0.53,0.46];

const part10Day = [
479.66,479.89,480.12,480.35,480.58,480.81,481.04,481.27,481.5,481.73,
481.96,482.19,482.42,482.65,482.88,483.11,483.34,483.57,483.8,484.03,
484.26,484.49,484.72,484.95,485.18,485.41,485.64,485.87,486.1,486.33,
486.56,486.79,487.02,487.25,487.48,487.71,487.94,488.17,488.4,488.63,
488.86,489.09,489.32,489.55,489.77,490.0,490.23,490.46,490.69,490.92,
491.15,491.38,491.61,491.84,492.07,492.3,492.53,492.76,492.99,493.22,
493.45,493.68,493.91,494.14,494.37,494.6,494.83,495.06,495.29,495.52,
495.75,495.98,496.21,496.44,496.67,496.9,497.13,497.36,497.59,497.82,
498.05,498.28,498.51,498.74,498.97,499.2,499.43,499.66,499.89,500.12,
500.35,500.58,500.81,501.04,501.27,501.5,501.73,501.96,502.19,502.42,
502.65,502.88,503.11,503.34,503.57,503.8,504.03,504.26,504.49,504.72,
504.95,505.18,505.41,505.64,505.87,506.1,506.33,506.56,506.79,507.02,
507.25,507.48,507.71,507.94,508.17,508.4,508.63,508.86,509.08,509.31,
509.54,509.77,510.0,510.23,510.46,510.69,510.92,511.15,511.38,511.61,
511.84,512.07,512.3,512.53,512.76,512.99,513.22,513.45,513.68,513.91,
514.14,514.37,514.6,514.83,515.06,515.29,515.52,515.75,515.98,516.21,
516.44,516.67,516.9,517.13,517.36,517.59,517.82,518.05,518.28,518.51,
518.74,518.97,519.2,519.43,519.66,519.89,520.12,520.35,520.58,520.81,
520.93,521.16,521.39,521.61,521.84,522.07,522.3,522.53,522.76,522.99,
523.22,523.45,523.68,523.91,524.14,524.37,524.6,524.83,525.06,525.29,
525.52,525.75,525.98,526.21,526.44,526.67,526.9,527.13,527.36,527.59,
527.82,528.05,528.28,528.51,528.74,528.97,529.2,529.43,529.66,529.89,
530.12,530.35,530.58,530.81,531.04,531.27,531.5,531.73,531.96,532.19,
532.42,532.64,532.87,533.1,533.33,533.56,533.74,533.91,534.14,534.37,
534.49,534.72,534.95,535.0];
const part10Hs = [
0.51,0.44,0.33,0.42,0.40,0.33,0.51,0.85,0.69,0.58,
0.62,0.49,0.46,0.40,0.42,0.37,0.44,0.44,0.42,0.30,
0.28,0.26,0.21,0.19,0.21,0.26,0.30,0.40,0.53,0.60,
0.58,0.55,0.50,0.49,0.53,0.49,0.44,0.55,0.69,0.76,
1.03,0.96,0.80,0.85,1.19,0.90,0.55,0.44,0.24,0.19,
0.37,0.42,0.35,0.40,0.37,0.33,0.35,0.28,0.35,0.37,
0.42,0.46,0.40,0.49,0.40,0.33,0.30,0.44,0.33,0.37,
0.30,0.33,0.30,0.28,0.30,0.33,0.35,0.44,0.37,0.40,
0.35,0.33,0.37,0.30,0.35,0.30,0.28,0.33,0.26,0.28,
0.35,0.40,0.42,0.50,0.49,0.50,0.44,0.53,0.49,0.44,
0.50,0.55,0.35,0.17,0.19,0.30,0.15,0.21,0.26,0.33,
0.30,0.35,0.40,0.37,0.50,0.60,0.73,0.69,0.71,0.65,
0.60,0.55,0.49,0.40,0.49,0.58,1.30,1.35,1.49,1.03,
0.80,0.73,0.58,0.50,0.42,0.49,0.37,0.42,0.53,0.71,
0.67,0.42,0.37,0.44,0.49,0.37,0.42,0.50,0.62,0.85,
0.80,0.71,0.78,0.58,0.73,0.46,0.33,0.44,0.50,0.37,
0.42,0.62,0.58,0.49,0.46,0.53,0.42,0.35,0.28,0.30,
0.26,0.24,0.26,0.33,0.58,0.83,0.80,0.73,0.92,1.10,
1.38,1.28,1.03,0.71,0.80,0.62,0.69,0.94,0.42,0.12,
0.21,0.35,0.46,0.94,0.69,0.65,0.53,0.37,0.25,0.42,
0.62,0.92,1.37,1.51,1.53,1.35,1.55,1.26,1.19,1.03,
0.99,0.90,0.71,0.60,0.80,0.58,0.73,0.85,1.03,1.26,
1.03,0.55,0.58,0.69,0.53,0.49,0.67,0.60,0.46,0.40,
0.58,0.55,0.69,0.80,1.03,1.55,1.83,1.53,1.37,1.15,
1.35,1.03,0.90,0.85];

const tickDates = ['2024-05-05','2024-08-02','2024-10-30','2025-01-27','2025-04-27','2025-07-25','2025-10-22'];
const tickDayMonth = ['05 May','02 Aug','30 Oct','27 Jan','27 Apr','25 Jul','22 Oct'];
const tickYears = ['2024','2024','2024','2025','2025','2025','2025'];
const yTickVals = [0,0.5,1,1.5,2,2.5,3,3.5];
const yTickText = ['0','0.5','1','1.5','2','2.5','3','3.5'];

const titleText = 'F0136 SIGNIFICANT WAVE HEIGHT 3 at depth 0m';
const yLabel = 'm';

const parts = [
  [part01Day, part01Hs],[part02Day, part02Hs],[part03Day, part03Hs],[part04Day, part04Hs],[part05Day, part05Hs],
  [part06Day, part06Hs],[part07Day, part07Hs],[part08Day, part08Hs],[part09Day, part09Hs],[part10Day, part10Hs]
];
const base = Date.parse(startDate + 'T00:00:00Z');
function dayToStr(d){ return new Date(base + d*86400000).toISOString().replace('T',' ').slice(0,19); }
const xs = [], ys = [];
parts.forEach(function(p, i){
  const n = Math.min(p[0].length, p[1].length);
  if (p[0].length !== p[1].length) console.log('length mismatch in part ' + (i+1) + ': ' + p[0].length + ' vs ' + p[1].length);
  for (let k = 0; k < n; k++){ xs.push(dayToStr(p[0][k])); ys.push(p[1][k]); }
});

const NB = '\u00A0';
const tickText = tickDayMonth.map(function(s, i){ return s + NB + '<br>' + NB + NB + NB + tickYears[i]; });

const FONT = 'DejaVu Sans Mono, monospace';
const AX = '#262626';

const trace = {
  type: 'scatter', mode: 'lines', x: xs, y: ys,
  line: {color: '#0072BD', width: 2},
  hoverinfo: 'skip', showlegend: false
};

const layout = {
  width: 4000, height: 2250,
  paper_bgcolor: '#ffffff', plot_bgcolor: '#ffffff',
  margin: {l: 518, r: 380, t: 166, b: 247, pad: 0},
  font: {family: FONT, color: AX, size: 20},
  title: {
    text: titleText,
    font: {family: FONT, size: 31, color: '#000000', weight: 'bold'},
    x: 0.5, xref: 'paper', xanchor: 'center',
    y: 1 - 140/2250, yref: 'container', yanchor: 'middle'
  },
  xaxis: {
    type: 'date', range: [startDate, endDate],
    tickmode: 'array', tickvals: tickDates, ticktext: tickText,
    ticks: 'inside', ticklen: 31, tickwidth: 1.5, tickcolor: AX,
    showline: true, linecolor: AX, linewidth: 1.5, mirror: false,
    showgrid: false, zeroline: false,
    tickfont: {family: FONT, size: 20, color: AX},
    ticklabelstandoff: 0, fixedrange: true
  },
  yaxis: {
    range: [0, 3.5],
    tickmode: 'array', tickvals: yTickVals, ticktext: yTickText,
    ticks: 'inside', ticklen: 31, tickwidth: 1.5, tickcolor: AX,
    showline: true, linecolor: AX, linewidth: 1.5, mirror: false,
    showgrid: false, zeroline: false,
    tickfont: {family: FONT, size: 20, color: AX},
    ticklabelstandoff: 0, fixedrange: true
  },
  annotations: [{
    text: yLabel, xref: 'paper', yref: 'paper',
    x: (449 - 518) / 3102, y: 0.5, xanchor: 'center', yanchor: 'middle',
    textangle: -90, showarrow: false,
    font: {family: FONT, size: 34, color: AX}
  }]
};

Plotly.newPlot('chart', [trace], layout, {staticPlot: true, displayModeBar: false});
</script>
</body>
</html>
